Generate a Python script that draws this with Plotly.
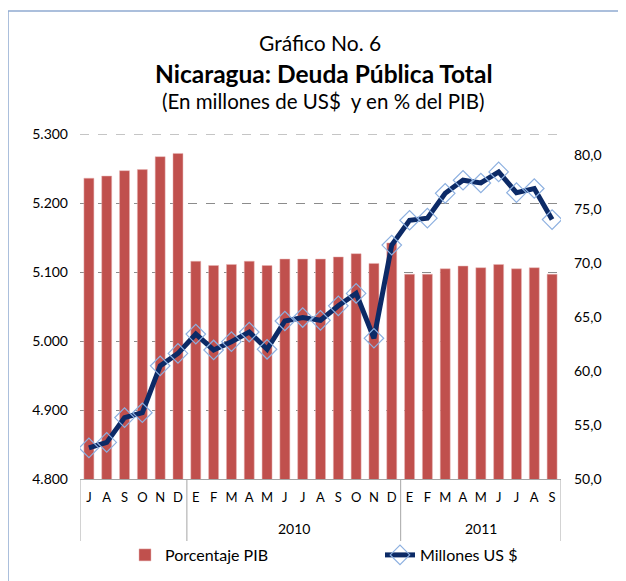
import plotly.graph_objects as go

months = ["J", "A", "S", "O", "N", "D",
          "E", "F", "M", "A", "M", "J", "J", "A", "S", "O", "N", "D",
          "E", "F", "M", "A", "M", "J", "J", "A", "S"]
years = ["", "2010", "2011"]
year_counts = [6, 12, 9]

pct_pib = [77.9, 78.1, 78.6, 78.7, 79.9, 80.2,
           70.2, 69.8, 69.9, 70.2, 69.8, 70.4, 70.4, 70.4, 70.6, 70.9, 70.0, 71.9,
           69.0, 69.0, 69.5, 69.75, 69.6, 69.9, 69.5, 69.6, 69.0]
millones = [4845, 4853, 4889, 4896, 4964, 4982,
            5010, 4987, 4999, 5013, 4988, 5029, 5034, 5030, 5051, 5069, 5004, 5139,
            5175, 5178, 5214, 5233, 5229, 5245, 5215, 5221, 5176]

FONT = "Lato"
x = list(range(len(months)))

fig = go.Figure()
fig.add_trace(go.Bar(
    x=x, y=pct_pib, name="Porcentaje PIB", yaxis="y", legend="legend",
    marker=dict(color="#C0504D", line=dict(color="#E8B7B6", width=0.5)),
))
fig.add_trace(go.Scatter(
    x=x, y=millones, name="Millones US $", yaxis="y2", mode="lines+markers", legend="legend2",
    line=dict(color="#0C2A66", width=5),
    marker=dict(symbol="diamond-open", size=15, color="#8DB0E0", line=dict(width=1.2, color="#8DB0E0")),
))

# page layout (page pixels); the page body has an 8px margin
OFF = 8
W, H = 626 - OFF, 581 - OFF
PL, PR, PT, PB = 80, 561, 134, 479  # plot area in page pixels
L, T = PL - OFF, PT - OFF
R, B = W - (PR - OFF), H - (PB - OFF)
pw, ph = PR - PL, PB - PT

def px2x(px):
    return (px - PL) / pw

def px2y(py):
    return (PB - py) / ph

shapes = []
bounds = [-0.5]
for c in year_counts:
    bounds.append(bounds[-1] + c)
for b in bounds:
    shapes.append(dict(type="line", xref="x", yref="paper", x0=b, x1=b,
                       y0=0, y1=px2y(541), line=dict(color="#A6A6A6", width=1)))
# top gridline (at range edge)
shapes.append(dict(type="line", xref="paper", yref="y2", x0=0, x1=1, y0=5300, y1=5300,
                   layer="below", line=dict(color="#8C8C8C", width=1, dash="dash")))
# frame
shapes.append(dict(type="line", xref="paper", yref="paper", x0=px2x(8), x1=px2x(640),
                   y0=px2y(11), y1=px2y(11), line=dict(color="#8FAAD0", width=1.5)))
shapes.append(dict(type="line", xref="paper", yref="paper", x0=px2x(8), x1=px2x(8),
                   y0=px2y(11), y1=px2y(600), line=dict(color="#8FAAD0", width=1.5)))

annotations = []
start = 0
for yr, c in zip(years, year_counts):
    if yr:
        annotations.append(dict(x=start + (c - 1) / 2, y=px2y(528), xref="x", yref="paper",
                                yanchor="middle", text=yr, showarrow=False,
                                font=dict(family=FONT, size=14, color="#000")))
    start += c
annotations += [
    dict(x=px2x(320), y=px2y(43), xref="paper", yref="paper", yanchor="middle", text="Gráfico No. 6",
         showarrow=False, font=dict(family=FONT, size=21, color="#000")),
    dict(x=px2x(324), y=px2y(73), xref="paper", yref="paper", yanchor="middle",
         text="<b>Nicaragua: Deuda Pública Total</b>",
         showarrow=False, font=dict(family=FONT, size=24.5, color="#000")),
    dict(x=px2x(323), y=px2y(101), xref="paper", yref="paper", yanchor="middle",
         text="(En millones de US$  y en % del PIB)",
         showarrow=False, font=dict(family=FONT, size=20.5, color="#000")),
]

legend_common = dict(orientation="h", yanchor="middle", y=px2y(555), xanchor="left",
                     font=dict(family=FONT, size=16, color="#000"), bgcolor="rgba(0,0,0,0)",
                     borderwidth=0)

fig.update_layout(
    width=W, height=H,
    margin=dict(l=L, r=R, t=T, b=B, autoexpand=False),
    paper_bgcolor="white", plot_bgcolor="white",
    separators=",.",
    bargap=0.44,
    font=dict(family=FONT, color="#000"),
    xaxis=dict(range=[-0.5, len(months) - 0.5], tickvals=x, ticktext=months,
               showgrid=False, zeroline=False, showline=True, linecolor="#A6A6A6", linewidth=1,
               ticks="", ticklabelstandoff=6, tickfont=dict(family=FONT, size=13, color="#000")),
    yaxis=dict(range=[50, 82], side="right", tickvals=[50, 55, 60, 65, 70, 75, 80],
               tickformat=".1f", showgrid=False, zeroline=False, showline=False,
               ticks="", ticklabelstandoff=12, tickfont=dict(family=FONT, size=14, color="#000")),
    yaxis2=dict(range=[4800, 5300], side="left", overlaying="y", dtick=100,
                tickformat=",.0f", showgrid=True, gridcolor="#8C8C8C", griddash="dash", gridwidth=1,
                zeroline=False, showline=False, ticks="", ticklabelstandoff=11,
                tickfont=dict(family=FONT, size=14, color="#000")),
    legend=dict(x=px2x(125), **legend_common),
    legend2=dict(x=px2x(380), **legend_common),
    shapes=shapes,
    annotations=annotations,
    showlegend=True,
)

fig.write_html("out.html")
